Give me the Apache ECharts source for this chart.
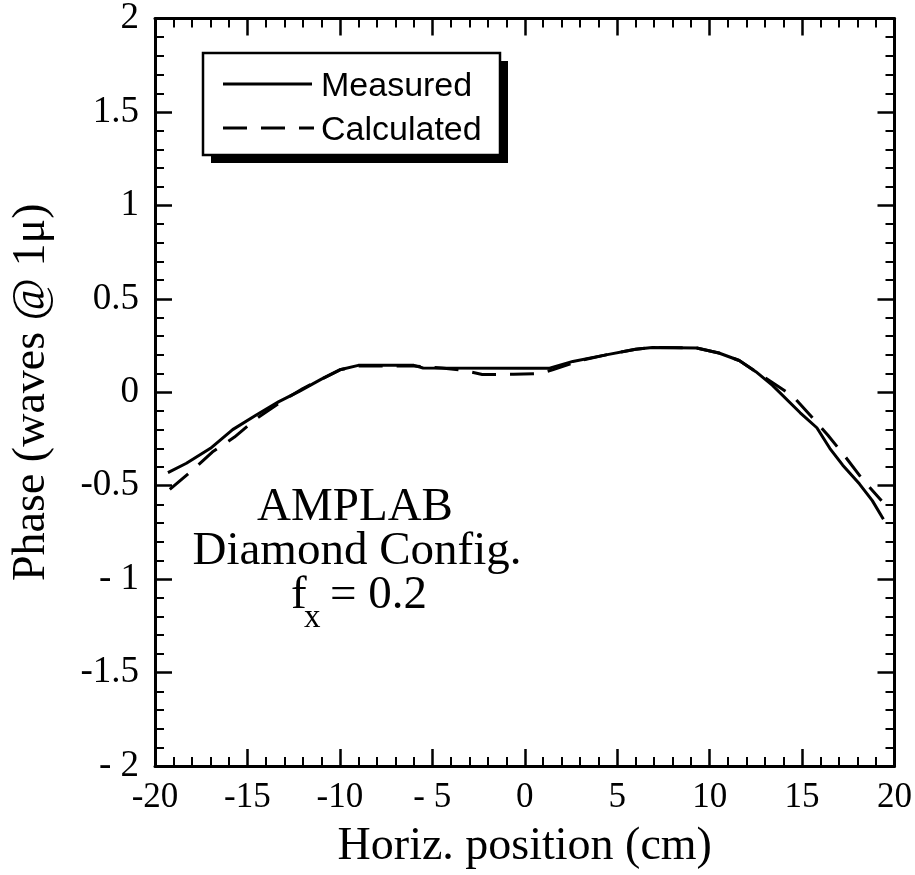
<!DOCTYPE html>
<html>
<head>
<meta charset="utf-8">
<script src="https://cdn.jsdelivr.net/npm/echarts@6/dist/echarts.min.js"></script>
<style>html,body{margin:0;padding:0;background:#fff}#c{width:915px;height:875px}</style>
</head>
<body>
<div id="c"></div>
<script>
// Data
const measuredX = [-19.3,-18.3,-17.0,-15.8,-14.5,-13.3,-12.2,-11.0,-10.0,-9.0,-6.0,-5.5,0.0,1.3,2.6,4.4,6.0,6.9,9.3,10.5,11.6,12.5,13.4,14.9,15.8,16.5,17.2,18.1,18.8,19.4];
const measuredY = [-0.43,-0.38,-0.30,-0.20,-0.12,-0.05,0.005,0.07,0.12,0.144,0.144,0.13,0.128,0.128,0.165,0.20,0.23,0.24,0.237,0.21,0.17,0.11,0.037,-0.11,-0.19,-0.30,-0.39,-0.49,-0.58,-0.68];
const calculatedX = [-19.2,-18.0,-16.9,-15.7,-14.5,-13.0,-12.0,-11.0,-10.0,-9.0,-6.0,-4.5,-3.3,-2.3,-0.6,0.8,1.5,3.0,4.4,6.0,7.0,9.3,10.5,11.6,12.5,14.5,15.6,16.4,17.3,18.3,19.3];
const calculatedY = [-0.52,-0.42,-0.32,-0.24,-0.14,-0.04,0.02,0.07,0.12,0.14,0.14,0.13,0.117,0.095,0.096,0.10,0.12,0.17,0.20,0.23,0.24,0.237,0.21,0.17,0.11,-0.02,-0.14,-0.23,-0.34,-0.47,-0.58];
const xTickValues = [-20,-15,-10,-5,0,5,10,15,20];
const xTickLabels = ['-20','-15','-10','- 5','0','5','10','15','20'];
const yTickValues = [-2,-1.5,-1,-0.5,0,0.5,1,1.5,2];
const yTickLabels = ['- 2','-1.5','- 1','-0.5','0','0.5','1','1.5','2'];
const seriesNames = ['Measured','Calculated'];
const annotationLines = ['AMPLAB','Diamond Config.'];

const serif = 'Liberation Serif';
const sans = 'Liberation Sans';
function lbl(values, labels){ return v => { const i = values.findIndex(t => Math.abs(t - v) < 1e-9); return i >= 0 ? labels[i] : ''; }; }
const zip = (xs, ys) => xs.map((x, i) => [x, ys[i]]);

const lineW = 3;
const dashPattern = [24, 14];

const axisCommon = {
  axisLine: { show: true, onZero: false, lineStyle: { color: '#000', width: 3 } },
  axisTick: { show: true, inside: true, length: 17, lineStyle: { color: '#000', width: 2.5 } },
  minorTick: { show: true, splitNumber: 5, length: 9, lineStyle: { color: '#000', width: 2 } },
  splitLine: { show: false }
};

// legend box geometry (drawn as graphic)
const LB = { x: 203, y: 53, w: 297, h: 102, sh: 8 };

const chart = echarts.init(document.getElementById('c'), null, { renderer: 'canvas' });
chart.setOption({
  animation: false,
  backgroundColor: '#fff',
  grid: { left: 155, right: 20, top: 17, bottom: 106, containLabel: false },
  xAxis: [
    Object.assign({}, axisCommon, {
      type: 'value', min: -20, max: 20, interval: 5, position: 'bottom',
      name: 'Horiz. position (cm)', nameLocation: 'middle', nameGap: 58,
      nameTextStyle: { fontFamily: serif, fontSize: 46, color: '#000' },
      axisLabel: { show: true, margin: 14, fontFamily: serif, fontSize: 35, color: '#000', formatter: lbl(xTickValues, xTickLabels) }
    }),
    Object.assign({}, axisCommon, {
      type: 'value', min: -20, max: 20, interval: 5, position: 'top', axisLabel: { show: false }
    })
  ],
  yAxis: [
    Object.assign({}, axisCommon, {
      type: 'value', min: -2, max: 2, interval: 0.5, position: 'left',
      name: 'Phase (waves @ 1\u03bc)', nameLocation: 'middle', nameGap: 100, nameRotate: 90,
      nameTextStyle: { fontFamily: serif, fontSize: 46, color: '#000' },
      axisLabel: { show: true, margin: 16, fontFamily: serif, fontSize: 37, color: '#000', formatter: lbl(yTickValues, yTickLabels) }
    }),
    Object.assign({}, axisCommon, {
      type: 'value', min: -2, max: 2, interval: 0.5, position: 'right', axisLabel: { show: false }
    })
  ],
  series: [
    { name: seriesNames[0], type: 'line', data: zip(measuredX, measuredY), symbol: 'none', lineStyle: { color: '#000', width: lineW }, itemStyle: { color: '#000' } },
    { name: seriesNames[1], type: 'line', data: zip(calculatedX, calculatedY), symbol: 'none', lineStyle: { color: '#000', width: lineW, type: dashPattern }, itemStyle: { color: '#000' } }
  ],
  graphic: [
    // legend
    { type: 'rect', shape: { x: LB.x + LB.sh, y: LB.y + LB.sh, width: LB.w, height: LB.h }, style: { fill: '#000' }, z: 10 },
    { type: 'rect', shape: { x: LB.x, y: LB.y, width: LB.w, height: LB.h }, style: { fill: '#fff', stroke: '#000', lineWidth: 2.5 }, z: 11 },
    { type: 'line', shape: { x1: 223, y1: 84, x2: 312, y2: 84 }, style: { stroke: '#000', lineWidth: lineW }, z: 12 },
    { type: 'line', shape: { x1: 223, y1: 128, x2: 314, y2: 128 }, style: { stroke: '#000', lineWidth: lineW, lineDash: dashPattern }, z: 12 },
    { type: 'text', style: { text: seriesNames[0], fontFamily: sans, fontSize: 34, fill: '#000', x: 321, y: 87, align: 'left', verticalAlign: 'middle' }, z: 12 },
    { type: 'text', style: { text: seriesNames[1], fontFamily: sans, fontSize: 34, fill: '#000', x: 321, y: 131, align: 'left', verticalAlign: 'middle' }, z: 12 },
    // annotation
    { type: 'text', style: { text: annotationLines[0], fontFamily: serif, fontSize: 47, fill: '#000', x: 355, y: 508, align: 'center', verticalAlign: 'middle' } },
    { type: 'text', style: { text: annotationLines[1], fontFamily: serif, fontSize: 47, fill: '#000', x: 357, y: 552, align: 'center', verticalAlign: 'middle' } },
    { type: 'text', style: { text: 'f', fontFamily: serif, fontSize: 47, fill: '#000', x: 291, y: 596, align: 'left', verticalAlign: 'middle' } },
    { type: 'text', style: { text: 'x', fontFamily: serif, fontSize: 33, fill: '#000', x: 304, y: 618, align: 'left', verticalAlign: 'middle' } },
    { type: 'text', style: { text: '= 0.2', fontFamily: serif, fontSize: 47, fill: '#000', x: 330, y: 596, align: 'left', verticalAlign: 'middle' } }
  ]
});
</script>
</body>
</html>
